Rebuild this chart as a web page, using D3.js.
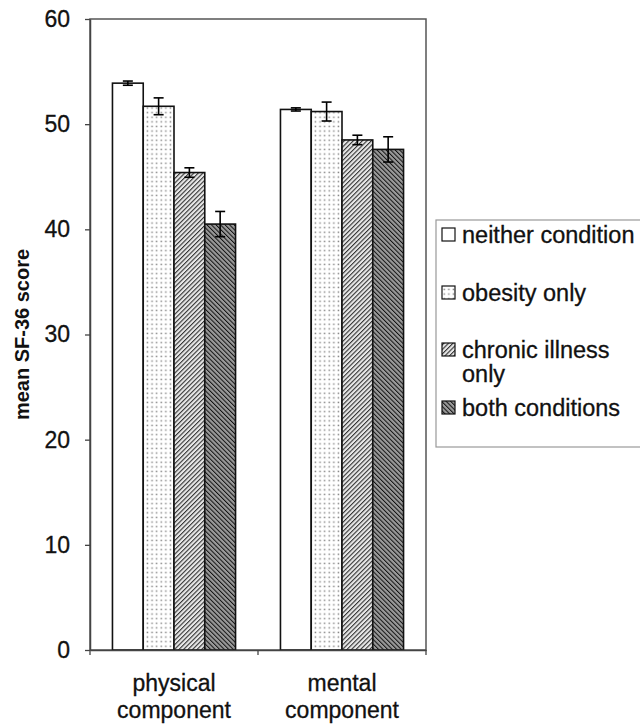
<!DOCTYPE html>
<html>
<head>
<meta charset="utf-8">
<script src="https://cdn.jsdelivr.net/npm/d3@7"></script>
<style>
  body { margin: 0; background: #fff; }
  svg { display: block; font-family: "Liberation Sans", Arial, sans-serif; }
</style>
</head>
<body>
<div id="chart"></div>
<script>
// data
const categories = ['physical component', 'mental component'];
const groups = ['neither condition', 'obesity only', 'chronic illness only', 'both conditions'];
const legendLabels = [['neither condition'], ['obesity only'], ['chronic illness', 'only'], ['both conditions']];
const physicalMeans = [53.9, 51.7, 45.4, 40.5];
const physicalErr = [0.2, 0.8, 0.45, 1.2];
const mentalMeans = [51.4, 51.2, 48.5, 47.6];
const mentalErr = [0.15, 0.9, 0.45, 1.2];
const yTicks = [0, 10, 20, 30, 40, 50, 60];

const seriesData = categories.map((c, i) => ({
  category: c,
  values: groups.map((g, j) => ({
    group: g,
    mean: i === 0 ? physicalMeans[j] : mentalMeans[j],
    err: i === 0 ? physicalErr[j] : mentalErr[j]
  }))
}));

const width = 640, height = 725;
const margin = { top: 19, left: 90, right: 214, bottom: 75 };

const svg = d3.select('#chart').append('svg')
  .attr('width', width)
  .attr('height', height);

// fill patterns
const defs = svg.append('defs');

const dots = defs.append('pattern')
  .attr('id', 'dots')
  .attr('patternUnits', 'userSpaceOnUse')
  .attr('width', 4.6).attr('height', 4.6);
dots.append('rect').attr('width', 4.6).attr('height', 4.6).attr('fill', '#fff');
dots.append('rect').attr('x', 1.5).attr('y', 1.5).attr('width', 1.5).attr('height', 1.5).attr('fill', '#8a8a8a');

const hatchUp = defs.append('pattern')
  .attr('id', 'hatchUp')
  .attr('patternUnits', 'userSpaceOnUse')
  .attr('width', 3.2).attr('height', 3.2)
  .attr('patternTransform', 'rotate(45)');
hatchUp.append('rect').attr('width', 3.2).attr('height', 3.2).attr('fill', '#e8e8e8');
hatchUp.append('line').attr('x1', 0).attr('y1', 0).attr('x2', 0).attr('y2', 3.2)
  .attr('stroke', '#333').attr('stroke-width', 2.2);

const hatchDown = defs.append('pattern')
  .attr('id', 'hatchDown')
  .attr('patternUnits', 'userSpaceOnUse')
  .attr('width', 3.2).attr('height', 3.2)
  .attr('patternTransform', 'rotate(-45)');
hatchDown.append('rect').attr('width', 3.2).attr('height', 3.2).attr('fill', '#9a9a9a');
hatchDown.append('line').attr('x1', 0).attr('y1', 0).attr('x2', 0).attr('y2', 3.2)
  .attr('stroke', '#111').attr('stroke-width', 2.0);

const fills = ['#fff', 'url(#dots)', 'url(#hatchUp)', 'url(#hatchDown)'];

const x0 = d3.scaleBand()
  .domain(categories)
  .range([margin.left, width - margin.right])
  .paddingInner(0).paddingOuter(0);

const x1 = d3.scaleBand()
  .domain(groups)
  .range([0, x0.bandwidth()])
  .paddingOuter(0.73);

const y = d3.scaleLinear()
  .domain([0, 60])
  .range([height - margin.bottom, margin.top]);

// plot frame
svg.append('rect')
  .attr('x', margin.left).attr('y', margin.top)
  .attr('width', width - margin.right - margin.left)
  .attr('height', y(0) - margin.top)
  .attr('fill', 'none')
  .attr('stroke', '#555')
  .attr('stroke-width', 1.5);

// bars
const cat = svg.append('g').selectAll('g')
  .data(seriesData)
  .join('g')
  .attr('transform', d => `translate(${x0(d.category)},0)`);

cat.selectAll('rect')
  .data(d => d.values)
  .join('rect')
  .attr('x', d => x1(d.group))
  .attr('y', d => y(d.mean))
  .attr('width', x1.bandwidth())
  .attr('height', d => y(0) - y(d.mean))
  .attr('fill', (d, i) => fills[i])
  .attr('stroke', '#111')
  .attr('stroke-width', 1.6);

// error bars
const eb = cat.selectAll('g.err')
  .data(d => d.values)
  .join('g')
  .attr('class', 'err')
  .attr('stroke', '#000')
  .attr('stroke-width', 1.6);

eb.append('line')
  .attr('x1', d => x1(d.group) + x1.bandwidth() / 2)
  .attr('x2', d => x1(d.group) + x1.bandwidth() / 2)
  .attr('y1', d => y(d.mean + d.err))
  .attr('y2', d => y(d.mean - d.err));
eb.append('line')
  .attr('x1', d => x1(d.group) + x1.bandwidth() / 2 - 5)
  .attr('x2', d => x1(d.group) + x1.bandwidth() / 2 + 5)
  .attr('y1', d => y(d.mean + d.err))
  .attr('y2', d => y(d.mean + d.err));
eb.append('line')
  .attr('x1', d => x1(d.group) + x1.bandwidth() / 2 - 5)
  .attr('x2', d => x1(d.group) + x1.bandwidth() / 2 + 5)
  .attr('y1', d => y(d.mean - d.err))
  .attr('y2', d => y(d.mean - d.err));

// y axis
const yAxis = svg.append('g')
  .attr('transform', `translate(${margin.left},0)`)
  .call(d3.axisLeft(y).tickValues(yTicks).tickSize(5).tickPadding(15).tickSizeOuter(0));
yAxis.select('.domain').attr('stroke', '#444').attr('stroke-width', 1.5);
yAxis.selectAll('.tick line').attr('stroke', '#444').attr('stroke-width', 1.3);
yAxis.selectAll('.tick text')
  .attr('font-size', 23)
  .attr('fill', '#111')
  .attr('stroke', '#111').attr('stroke-width', 0.3)
  .attr('font-family', '"Liberation Sans", Arial, sans-serif');

// x axis
const xAxis = svg.append('g')
  .attr('transform', `translate(0,${y(0)})`)
  .call(d3.axisBottom(x0).tickSize(0).tickPadding(0));
xAxis.select('.domain').attr('stroke', '#444').attr('stroke-width', 1.5);
xAxis.selectAll('.tick text').remove();
xAxis.selectAll('.tick').each(function (d) {
  const words = d.split(' ');
  const t = d3.select(this).append('text')
    .attr('fill', '#111')
    .attr('stroke', '#111').attr('stroke-width', 0.3)
    .attr('font-size', 23)
    .attr('text-anchor', 'middle')
    .attr('font-family', '"Liberation Sans", Arial, sans-serif');
  words.forEach((w, i) => {
    t.append('tspan').attr('x', 0).attr('y', 41 + i * 27).text(w);
  });
});
// small tick marks at category boundaries
xAxis.selectAll('line.bound')
  .data([x0.range()[0], x0(categories[1]), x0.range()[1]])
  .join('line')
  .attr('class', 'bound')
  .attr('x1', d => d).attr('x2', d => d)
  .attr('y1', 0).attr('y2', 5)
  .attr('stroke', '#444').attr('stroke-width', 1.3);

// y title
svg.append('text')
  .attr('transform', `translate(29,${(y(0) + y(60)) / 2}) rotate(-90)`)
  .attr('text-anchor', 'middle')
  .attr('font-size', 20)
  .attr('font-weight', 'bold')
  .attr('fill', '#111')
  .text('mean SF-36 score');

// legend
const legend = svg.append('g');
legend.append('rect')
  .attr('x', 436).attr('y', 220)
  .attr('width', 220).attr('height', 227)
  .attr('fill', '#fff')
  .attr('stroke', '#999')
  .attr('stroke-width', 1.2);

const legendY = [243, 301, 358, 416];
const item = legend.selectAll('g.item')
  .data(groups)
  .join('g')
  .attr('class', 'item')
  .attr('transform', (d, i) => `translate(442,${legendY[i]})`);

item.append('rect')
  .attr('x', 0).attr('y', -15)
  .attr('width', 13).attr('height', 13)
  .attr('fill', (d, i) => fills[i])
  .attr('stroke', '#111')
  .attr('stroke-width', 1.2);

item.append('text')
  .attr('x', 20)
  .attr('y', 0)
  .attr('font-size', 23.5)
  .attr('fill', '#111')
  .attr('stroke', '#111').attr('stroke-width', 0.3)
  .each(function (d, i) {
    legendLabels[i].forEach((line, k) => {
      d3.select(this).append('tspan').attr('x', 20).attr('y', k * 24).text(line);
    });
  });
</script>
</body>
</html>
